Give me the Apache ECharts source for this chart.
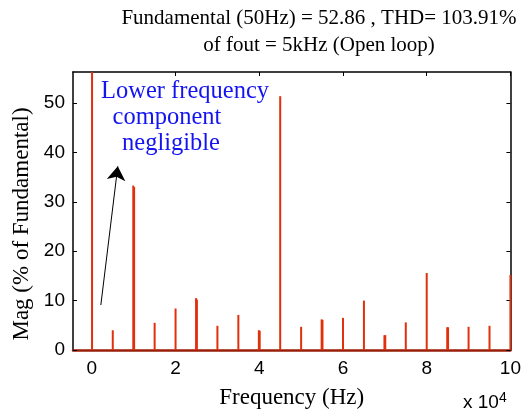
<!DOCTYPE html>
<html><head><meta charset="utf-8">
<script src="https://cdn.jsdelivr.net/npm/echarts@6/dist/echarts.min.js"></script>
<style>html,body{margin:0;padding:0;background:#fff}#c{width:524px;height:414px}</style>
</head><body><div id="c"></div>
<script>
// Harmonic spectrum: frequency (Hz) and magnitude (% of fundamental)
const freqs = [50, 5000, 9900, 10100, 15000, 20000, 24900, 25100, 30000, 35000, 39900, 40100, 45000,
  50000, 54900, 55100, 60000, 65000, 69900, 70100, 75000, 80000, 84900, 85100, 90000, 95000, 100000];
const mags  = [100, 4.0, 33.3, 33.0, 5.5, 8.4, 10.5, 10.2, 4.9, 7.1, 4.0, 3.9, 51.4,
  4.7, 6.2, 6.1, 6.5, 10.0, 3.0, 3.0, 5.6, 15.6, 4.6, 4.6, 4.7, 4.9, 15.2];
const xTicks = [0, 20000, 40000, 60000, 80000, 100000];
const yTicks = [0, 10, 20, 30, 40, 50];
const arrowFrom = [2150, 9.1];
const arrowTo = [6200, 37.2];
const titleLines = ['Fundamental (50Hz) = 52.86 , THD= 103.91%', 'of fout = 5kHz (Open loop)'];
const noteLines = ['Lower frequency', 'component', 'negligible'];
const xName = 'Frequency (Hz)';
const yName = 'Mag (% of Fundamental)';

const serif = 'Liberation Serif, Times New Roman, serif';
const sans = 'Liberation Sans, Arial, sans-serif';
const XMIN = -4500, XMAX = 100000, YMIN = 0, YMAX = 56.3;

const chart = echarts.init(document.getElementById('c'), null, {renderer: 'canvas'});
const tickStyle = {inside: true, length: 4, lineStyle: {color: '#000', width: 1}};
chart.setOption({
  animation: false,
  grid: {left: 73, right: 12, top: 72, bottom: 64, containLabel: false},
  xAxis: [{
    type: 'value', min: XMIN, max: XMAX, position: 'bottom',
    splitLine: {show: false},
    axisLine: {show: true, onZero: false, lineStyle: {color: '#9a1e08', width: 2.5}},
    axisTick: Object.assign({customValues: xTicks}, tickStyle),
    axisLabel: {customValues: xTicks, formatter: v => String(v / 10000), color: '#000', fontFamily: sans, fontSize: 19, margin: 9},
    name: xName, nameLocation: 'middle', nameGap: 36,
    nameTextStyle: {fontFamily: serif, fontSize: 23, color: '#000'}
  }, {
    type: 'value', min: XMIN, max: XMAX, position: 'top',
    splitLine: {show: false},
    axisLine: {show: true, onZero: false, lineStyle: {color: '#000', width: 1.5}},
    axisTick: Object.assign({customValues: xTicks}, tickStyle),
    axisLabel: {show: false}
  }],
  yAxis: [{
    type: 'value', min: YMIN, max: YMAX, position: 'left',
    splitLine: {show: false},
    axisLine: {show: true, onZero: false, lineStyle: {color: '#000', width: 1.5}},
    axisTick: Object.assign({customValues: yTicks}, tickStyle),
    axisLabel: {customValues: yTicks, color: '#000', fontFamily: sans, fontSize: 19, margin: 8}
  }, {
    type: 'value', min: YMIN, max: YMAX, position: 'right',
    splitLine: {show: false},
    axisLine: {show: true, onZero: false, lineStyle: {color: '#000', width: 1.5}},
    axisTick: Object.assign({customValues: yTicks}, tickStyle),
    axisLabel: {show: false}
  }],
  series: [{
    type: 'bar', xAxisIndex: 0, yAxisIndex: 0, clip: true,
    barWidth: 2, barGap: '-100%',
    itemStyle: {color: '#e0300c'},
    data: freqs.map((f, i) => [f, mags[i]]),
    markLine: {
      silent: true, animation: false,
      symbol: ['none', 'arrow'], symbolSize: 14,
      lineStyle: {color: '#000', width: 1, type: 'solid'},
      label: {show: false},
      emphasis: {disabled: true},
      data: [[{coord: arrowFrom}, {coord: arrowTo}]]
    }
  }]
});

// Title, y-axis name and annotations
const gfx = [];
titleLines.forEach((t, i) => gfx.push({type: 'text', x: 319, y: 18 + i * 27,
  style: {text: t, font: '21px ' + serif, fill: '#000', align: 'center', verticalAlign: 'middle'}}));
gfx.push({type: 'text', x: 22, y: 224, rotation: Math.PI / 2,
  style: {text: yName, font: '23px ' + serif, fill: '#000', align: 'center', verticalAlign: 'middle'}});
const noteX = [185, 167, 171];
noteLines.forEach((t, i) => gfx.push({type: 'text', x: noteX[i], y: 92 + i * 26,
  style: {text: t, font: '24.5px ' + serif, fill: '#1414f0', align: 'center', verticalAlign: 'middle'}}));
gfx.push({type: 'text', x: 463, y: 412, style: {text: 'x 10', font: '19px ' + sans, fill: '#000', align: 'left', verticalAlign: 'bottom'}});
gfx.push({type: 'text', x: 499, y: 391, style: {text: '4', font: '14px ' + sans, fill: '#000', align: 'left', verticalAlign: 'top'}});
chart.setOption({graphic: gfx});
</script></body></html>
